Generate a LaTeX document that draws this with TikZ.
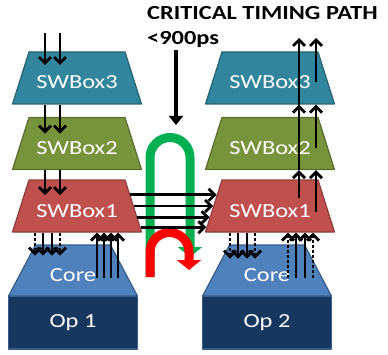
\documentclass[tikz,border=0pt]{standalone}
\usepackage{fontspec}
\setmainfont{Carlito}[FakeStretch=1.22]
\usetikzlibrary{shapes.geometric,arrows.meta,calc}

\definecolor{swteal}{HTML}{31859C}
\definecolor{swolive}{HTML}{77933C}
\definecolor{swred}{HTML}{C0504D}
\definecolor{coreblue}{HTML}{4F81BD}
\definecolor{opnavy}{HTML}{17375E}
\definecolor{edgeblue}{HTML}{385D8A}
\definecolor{pathgreen}{HTML}{00B050}
\definecolor{pathred}{HTML}{FF0000}

\begin{document}
\begin{tikzpicture}[x=1pt,y=1pt,line join=round,>={Straight Barb[length=6pt,width=12pt]},
  every node/.style={inner sep=0pt,text=white,font=\fontsize{20}{22}\selectfont},
  sw/.style={trapezium,trapezium left angle=75,trapezium right angle=75,trapezium stretches=true,
    inner ysep=15pt,minimum width=129pt,fill=#1,draw=#1!75!black,line width=1.2pt,
    text height=22pt,text depth=0pt},
  core/.style={trapezium,trapezium left angle=72,trapezium right angle=72,trapezium stretches=true,
    inner ysep=15pt,minimum width=129pt,fill=coreblue,draw=edgeblue,line width=1.2pt,
    text height=21pt,text depth=0pt},
  op/.style={rectangle,minimum width=129pt,minimum height=53pt,fill=opnavy,draw=edgeblue,line width=1.2pt},
  arr/.style={->,line width=2.8pt,black},
  dashline/.style={dash pattern=on 3pt off 2pt}]
  \useasboundingbox (0,0) rectangle (388,354);
  \node[op] (opa) at (73,31.5) {Op 1};
  \node[core] (corea) at (73,83.5) {Core};
  \node[sw=swred] (swa1) at (77,148) {SWBox1};
  \node[sw=swolive] (swa2) at (77,210.5) {SWBox2};
  \node[sw=swteal] (swa3) at (77,276) {SWBox3};
  \node[op] (opb) at (267,31.5) {Op 2};
  \node[core] (coreb) at (267,83.5) {Core};
  \node[sw=swred] (swb1) at (270,148) {SWBox1};
  \node[sw=swolive] (swb2) at (270,210.5) {SWBox2};
  \node[sw=swteal] (swb3) at (270,276) {SWBox3};
  \node[anchor=base west,text=black,font=\bfseries\fontsize{20}{22}\selectfont] (title) at (147,334) {CRITICAL TIMING PATH};
  \node[anchor=base west,text=black,font=\bfseries\fontsize{20}{22}\selectfont] (limit) at (147,309) {<900ps};
  \draw[line width=3.8pt,-{Triangle[length=9pt,width=14pt]}] (176,304) -- (176,229);
  \draw[line width=9pt,pathgreen,rounded corners=20pt,-{Triangle[length=10pt,width=24pt]}] (150,77) -- (150,216.5) -- (190,216.5) -- (190,97);
  \draw[line width=9pt,pathred,rounded corners=19.5pt,-{Triangle[length=10pt,width=24pt]}] (150,77) -- (150,121.5) -- (189,121.5) -- (189,84);
  \foreach \t in {0.29,0.5,0.71,0.9}
    \draw[arr] ($(swa1.top right corner)!\t!(swa1.bottom right corner)$) -- ($(swb1.top left corner)!\t!(swb1.bottom left corner)$);
  \foreach \x in {45,60}{
    \draw[arr] (\x,321) -- (\x,289);
    \draw[arr] (\x,0 |- swa3.south) -- ++(0,-29);
    \draw[arr] (\x,0 |- swa2.south) -- ++(0,-25);
  }
  \foreach \x/\s in {35/dashline,43/solid,52/solid,60/dashline}
    \draw[arr,\s] (\x,0 |- swa1.south) -- ++(0,-23);
  \foreach \x in {97,104,111,118}
    \draw[arr] (\x,76) -- (\x,0 |- swa1.south);
  \foreach \x/\s in {230/dashline,238/solid,247/solid,255/dashline}
    \draw[arr,\s] (\x,0 |- swb1.south) -- ++(0,-26);
  \foreach \x/\s in {288/dashline,296/solid,305/solid,313/dashline}
    \draw[arr,\s] (\x,76) -- (\x,0 |- swb1.south);
  \draw[arr] (299,156) -- (299,0 |- swb2.south);
  \draw[arr] (299,0 |- swb2.south) -- (299,0 |- swb3.south);
  \draw[arr] (299,0 |- swb3.south) -- (299,316);
  \draw[arr] (316,142) -- (316,0 |- swb2.south);
  \draw[arr] (316,206) -- (316,0 |- swb3.south);
  \draw[arr] (316,272) -- (316,316);
\end{tikzpicture}
\end{document}
